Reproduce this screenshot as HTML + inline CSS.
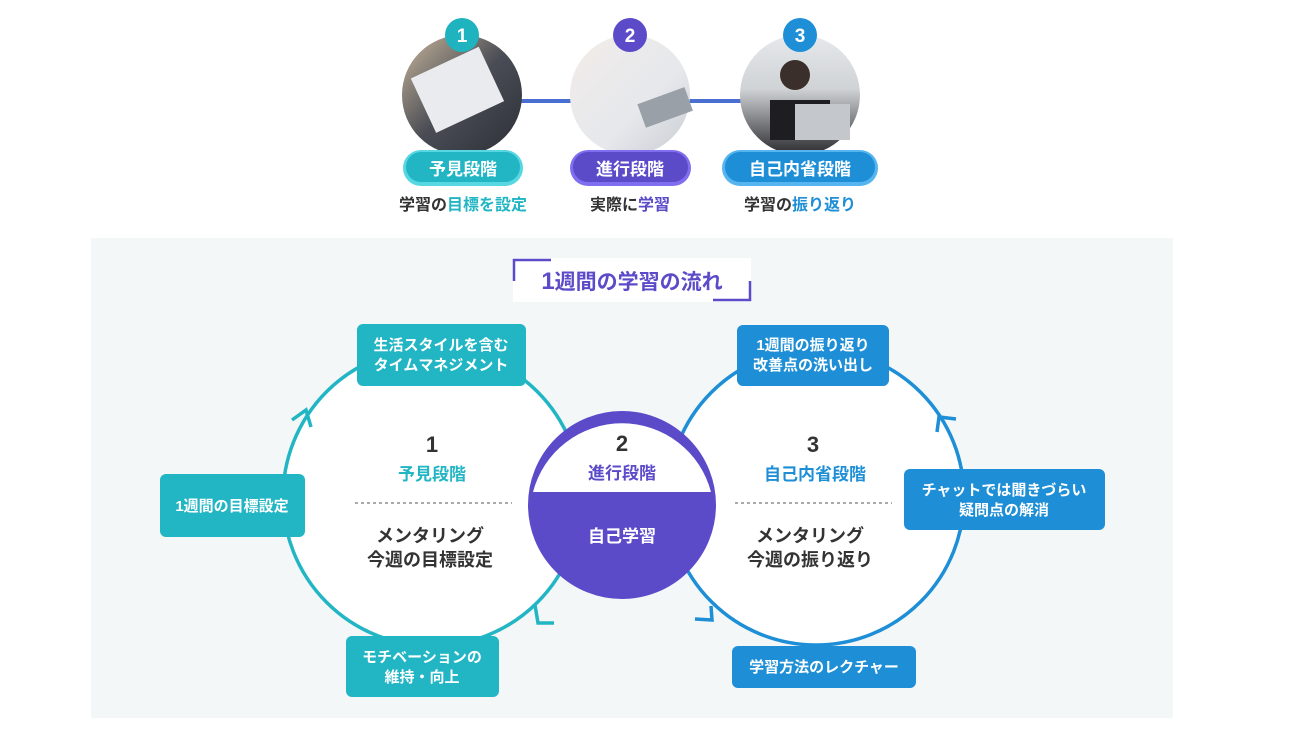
<!DOCTYPE html>
<html><head><meta charset="utf-8"><style>
html,body{margin:0;padding:0;background:#fff;width:1310px;height:753px;overflow:hidden}
svg text{font-family:"Liberation Sans","Noto Sans CJK JP",sans-serif;font-weight:bold}
</style></head><body>
<svg width="1310" height="753" viewBox="0 0 1310 753" xmlns="http://www.w3.org/2000/svg">
<defs>
<linearGradient id="p1" x1="0" y1="0" x2="1" y2="1"><stop offset="0" stop-color="#c9b79c"/><stop offset="0.5" stop-color="#4a4d55"/><stop offset="1" stop-color="#2c2f36"/></linearGradient>
<linearGradient id="p2" x1="0" y1="0" x2="1" y2="1"><stop offset="0" stop-color="#f1ece8"/><stop offset="0.6" stop-color="#e6e8ec"/><stop offset="1" stop-color="#c8ccd2"/></linearGradient>
<linearGradient id="p3" x1="0" y1="0" x2="0" y2="1"><stop offset="0" stop-color="#e6e9ec"/><stop offset="0.45" stop-color="#d0d3d6"/><stop offset="1" stop-color="#2a2a2e"/></linearGradient>
</defs>
<!-- top section -->
<line x1="462" y1="101" x2="800" y2="101" stroke="#4a6fd0" stroke-width="4"/>
<circle cx="462" cy="95" r="60" fill="url(#p1)"/>
<rect x="420" y="60" width="75" height="60" fill="#e9ebee" transform="rotate(-25 457 90)"/>
<circle cx="630" cy="95" r="60" fill="url(#p2)"/>
<rect x="640" y="95" width="50" height="25" fill="#9aa0a8" transform="rotate(-20 665 107)"/>
<circle cx="800" cy="95" r="60" fill="url(#p3)"/>
<circle cx="795" cy="75" r="15" fill="#3a2f2a"/>
<rect x="770" y="100" width="60" height="40" fill="#1e1e22"/>
<rect x="795" y="104" width="55" height="36" fill="#c4c7cc"/>
<circle cx="462" cy="35" r="17" fill="#1fb3bf"/><text x="462" y="42" text-anchor="middle" font-size="19" fill="#fff">1</text>
<circle cx="630" cy="35" r="17" fill="#5b4bc9"/><text x="630" y="42" text-anchor="middle" font-size="19" fill="#fff">2</text>
<circle cx="800" cy="35" r="17" fill="#1e8fd6"/><text x="800" y="42" text-anchor="middle" font-size="19" fill="#fff">3</text>
<rect x="403" y="150" width="120" height="36" rx="18" fill="#56d7e2"/><rect x="406" y="152" width="114" height="30" rx="15" fill="#22b5c4"/>
<text x="463" y="175" text-anchor="middle" font-size="17" fill="#fff">予見段階</text>
<rect x="570" y="150" width="121" height="36" rx="18" fill="#7f6ff0"/><rect x="573" y="152" width="115" height="30" rx="15" fill="#5b4bc9"/>
<text x="630" y="175" text-anchor="middle" font-size="17" fill="#fff">進行段階</text>
<rect x="722" y="150" width="156" height="36" rx="18" fill="#56b4f0"/><rect x="725" y="152" width="150" height="30" rx="15" fill="#1e8fd6"/>
<text x="800" y="175" text-anchor="middle" font-size="17" fill="#fff">自己内省段階</text>
<text x="463" y="210" text-anchor="middle" font-size="16" fill="#333" font-weight="normal">学習の<tspan fill="#22b5c4" font-weight="bold">目標を設定</tspan></text>
<text x="630" y="210" text-anchor="middle" font-size="16" fill="#333">実際に<tspan fill="#5b4bc9">学習</tspan></text>
<text x="800" y="210" text-anchor="middle" font-size="16" fill="#333">学習の<tspan fill="#1e8fd6">振り返り</tspan></text>

<!-- panel -->
<rect x="91" y="238" width="1082" height="480" fill="#f4f7f8"/>
<rect x="513" y="258" width="238" height="44" fill="#fff"/>
<polyline points="514,281 514,260 551,260" fill="none" stroke="#5b4bc9" stroke-width="2.5"/>
<polyline points="713,300 750,300 750,281" fill="none" stroke="#5b4bc9" stroke-width="2.5"/>
<text x="632" y="289" text-anchor="middle" font-size="21" fill="#5b4bc9"><tspan font-size="24">1</tspan>週間の学習の流れ</text>

<!-- circles -->
<circle cx="432" cy="497" r="149" fill="#fff" stroke="#22b5c4" stroke-width="3.5"/>
<circle cx="816" cy="497" r="148" fill="#fff" stroke="#1e8fd6" stroke-width="3.5"/>
<!-- arrowheads -->
<polyline points="292,420 306,410 311,427" fill="none" stroke="#22b5c4" stroke-width="3.5"/>
<polyline points="535,605 538,623 554,623" fill="none" stroke="#22b5c4" stroke-width="3.5"/>
<polyline points="937,418 956,418 937,416" fill="none" stroke="#1e8fd6" stroke-width="0"/>
<polyline points="937,432 939,417 956,419" fill="none" stroke="#1e8fd6" stroke-width="3.5"/>
<polyline points="695,619 712,620 711,606" fill="none" stroke="#1e8fd6" stroke-width="3.5"/>
<!-- middle -->
<circle cx="622" cy="505" r="92" fill="#5b4bc9"/>
<path d="M533,492 A92 92 0 0 1 711,492 Z" fill="#fff"/>
<circle cx="622" cy="505" r="92" fill="none" stroke="#5b4bc9" stroke-width="4"/>
<text x="622" y="451" text-anchor="middle" font-size="22" fill="#333">2</text>
<text x="622" y="479" text-anchor="middle" font-size="17" fill="#5b4bc9">進行段階</text>
<text x="622" y="542" text-anchor="middle" font-size="17" fill="#fff">自己学習</text>
<!-- left circle text -->
<text x="432" y="452" text-anchor="middle" font-size="22" fill="#333">1</text>
<text x="432" y="480" text-anchor="middle" font-size="17" fill="#22b5c4">予見段階</text>
<line x1="355" y1="503" x2="512" y2="503" stroke="#555" stroke-width="1" stroke-dasharray="3,3"/>
<text x="430" y="542" text-anchor="middle" font-size="18" fill="#333">メンタリング</text>
<text x="430" y="566" text-anchor="middle" font-size="18" fill="#333">今週の目標設定</text>
<!-- right circle text -->
<text x="813" y="452" text-anchor="middle" font-size="22" fill="#333">3</text>
<text x="815" y="480" text-anchor="middle" font-size="17" fill="#1e8fd6">自己内省段階</text>
<line x1="735" y1="503" x2="892" y2="503" stroke="#555" stroke-width="1" stroke-dasharray="3,3"/>
<text x="810" y="542" text-anchor="middle" font-size="18" fill="#333">メンタリング</text>
<text x="810" y="566" text-anchor="middle" font-size="18" fill="#333">今週の振り返り</text>
<!-- teal boxes -->
<rect x="357" y="324" width="169" height="62" rx="6" fill="#22b5c4"/>
<text x="441" y="350" text-anchor="middle" font-size="15" fill="#fff">生活スタイルを含む</text>
<text x="441" y="370" text-anchor="middle" font-size="15" fill="#fff">タイムマネジメント</text>
<rect x="160" y="474" width="145" height="63" rx="6" fill="#22b5c4"/>
<text x="232" y="511" text-anchor="middle" font-size="15" fill="#fff">1週間の目標設定</text>
<rect x="346" y="636" width="153" height="61" rx="6" fill="#22b5c4"/>
<text x="422" y="662" text-anchor="middle" font-size="15" fill="#fff">モチベーションの</text>
<text x="422" y="682" text-anchor="middle" font-size="15" fill="#fff">維持・向上</text>
<!-- blue boxes -->
<rect x="737" y="325" width="152" height="61" rx="6" fill="#1e8fd6"/>
<text x="813" y="350" text-anchor="middle" font-size="15" fill="#fff">1週間の振り返り</text>
<text x="813" y="370" text-anchor="middle" font-size="15" fill="#fff">改善点の洗い出し</text>
<rect x="904" y="469" width="201" height="61" rx="6" fill="#1e8fd6"/>
<text x="1004" y="495" text-anchor="middle" font-size="15" fill="#fff">チャットでは聞きづらい</text>
<text x="1004" y="515" text-anchor="middle" font-size="15" fill="#fff">疑問点の解消</text>
<rect x="732" y="646" width="184" height="42" rx="6" fill="#1e8fd6"/>
<text x="824" y="672" text-anchor="middle" font-size="15" fill="#fff">学習方法のレクチャー</text>
</svg>
</body></html>
